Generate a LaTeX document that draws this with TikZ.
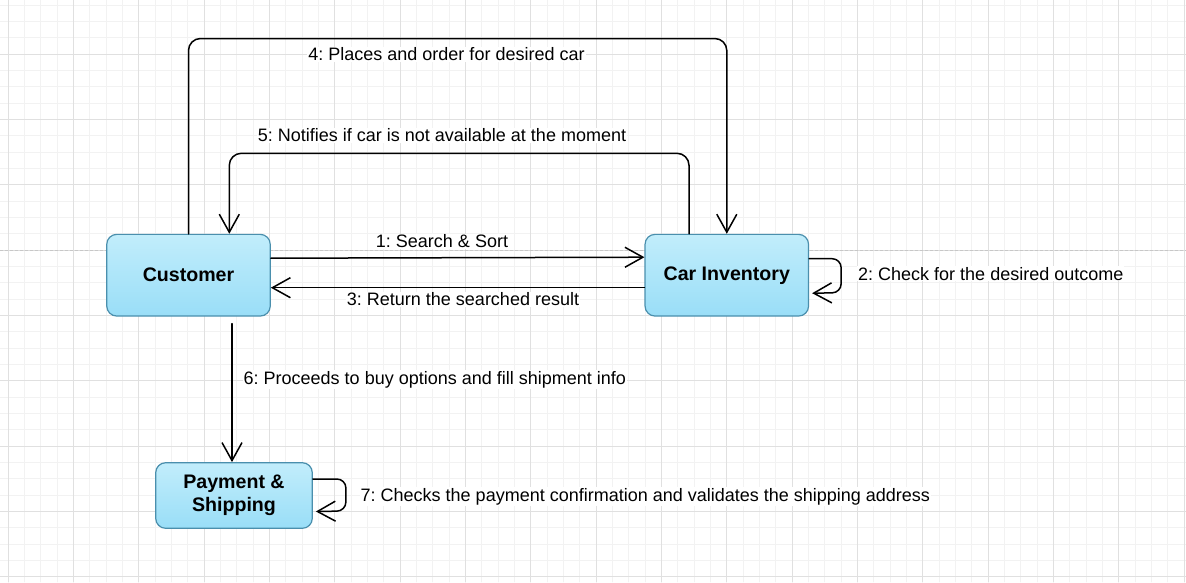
\documentclass[tikz,border=0pt]{standalone}
\usepackage{fontspec}
\setmainfont{Liberation Sans}
\usepackage{tikz}
\usetikzlibrary{arrows.meta}
\definecolor{boxtop}{rgb}{0.76,0.93,0.985}
\definecolor{boxbot}{rgb}{0.6,0.87,0.97}
\definecolor{boxline}{rgb}{0.29,0.56,0.68}
\definecolor{gridmaj}{rgb}{0.88,0.88,0.88}
\definecolor{gridmin}{rgb}{0.95,0.95,0.95}
\definecolor{pageline}{rgb}{0.78,0.78,0.78}
\frenchspacing
\tikzset{
  box/.style={draw=boxline,line width=1.2pt,rounded corners=10pt,top color=boxtop,bottom color=boxbot,
    inner sep=0pt,align=center,font=\fontsize{19.6}{23.5}\selectfont\bfseries},
  lbl/.style={fill=white,inner sep=1pt,font=\fontsize{18}{21}\selectfont},
  flow/.style={->,line width=1.5pt,rounded corners=12pt}
}

\begin{document}
\begin{tikzpicture}[line cap=round,line join=round,>={Straight Barb[length=18pt,width=20pt]},x=1pt,y=-1pt]
  \useasboundingbox (0,0) rectangle (1186,582);
  % grid
  \foreach \i in {0,...,72} \draw[gridmin,line width=0.8pt] (8+\i*16.333,0) -- (8+\i*16.333,582);
  \foreach \j in {0,...,35} \draw[gridmin,line width=0.8pt] (0,5+\j*16.333) -- (1186,5+\j*16.333);
  \foreach \i in {0,...,18} \draw[gridmaj,line width=0.8pt] (8+\i*65.333,0) -- (8+\i*65.333,582);
  \foreach \j in {0,...,8} \draw[gridmaj,line width=0.8pt] (0,54+\j*65.333) -- (1186,54+\j*65.333);
  \draw[pageline,line width=0.8pt,dash pattern=on 3pt off 2pt] (0,250) -- (1186,250);

  \node[box,minimum width=163.5pt,minimum height=81.7pt] (customer) at (188.5,275.2) {Customer};
  \node[box,minimum width=163.5pt,minimum height=81.7pt] (inventory) at (726.8,275.2) {Car Inventory};
  \node[box,minimum width=156.6pt,minimum height=65.6pt] (payment) at (234,495.5) {Payment \&\\Shipping};

  \coordinate (top4) at (450,38.5);
  \coordinate (top5) at (450,153.3);

  % 1 and 3
  \draw[flow] ([yshift=17pt]customer.east) -- ([yshift=18pt]inventory.west);
  \draw[flow] ([yshift=-12.5pt]inventory.west) -- ([yshift=-12.5pt]customer.east);
  % 2
  \draw[flow,rounded corners=9pt] ([yshift=16.5pt]inventory.east) -- ++(32,0) -- ++(0,34) -- ([xshift=3pt,yshift=-18pt]inventory.east);
  % 4 and 5
  \draw[flow] (customer.north) |- (top4) -| (inventory.north);
  \draw[flow] ([xshift=-37.8pt]inventory.north) |- (top5) -| ([xshift=40.8pt]customer.north);
  % 6
  \draw[flow] ([xshift=43.5pt,yshift=-7pt]customer.south) -- ([xshift=-2pt]payment.north);
  % 7
  \draw[flow,rounded corners=9pt] ([yshift=16.5pt]payment.east) -- ++(33,0) -- ++(0,32) -- ([xshift=3pt,yshift=-16pt]payment.east);

  \node[lbl,anchor=base] (l1) at (442,247.7) {1: Search \& Sort};
  \node[lbl,anchor=base west] (l2) at (857,280) {2: Check for the desired outcome};
  \node[lbl,anchor=base] (l3) at (463,305.7) {3: Return the searched result};
  \node[lbl,anchor=base] (l4) at (446.5,60.7) {4: Places and order for desired car};
  \node[lbl,anchor=base] (l5) at (442,141.7) {5: Notifies if car is not available at the moment};
  \node[lbl,anchor=base west] (l6) at (242.5,384) {6: Proceeds to buy options and fill shipment info};
  \node[lbl,anchor=base west] (l7) at (359.5,501) {7: Checks the payment confirmation and validates the shipping address};
\end{tikzpicture}
\end{document}
